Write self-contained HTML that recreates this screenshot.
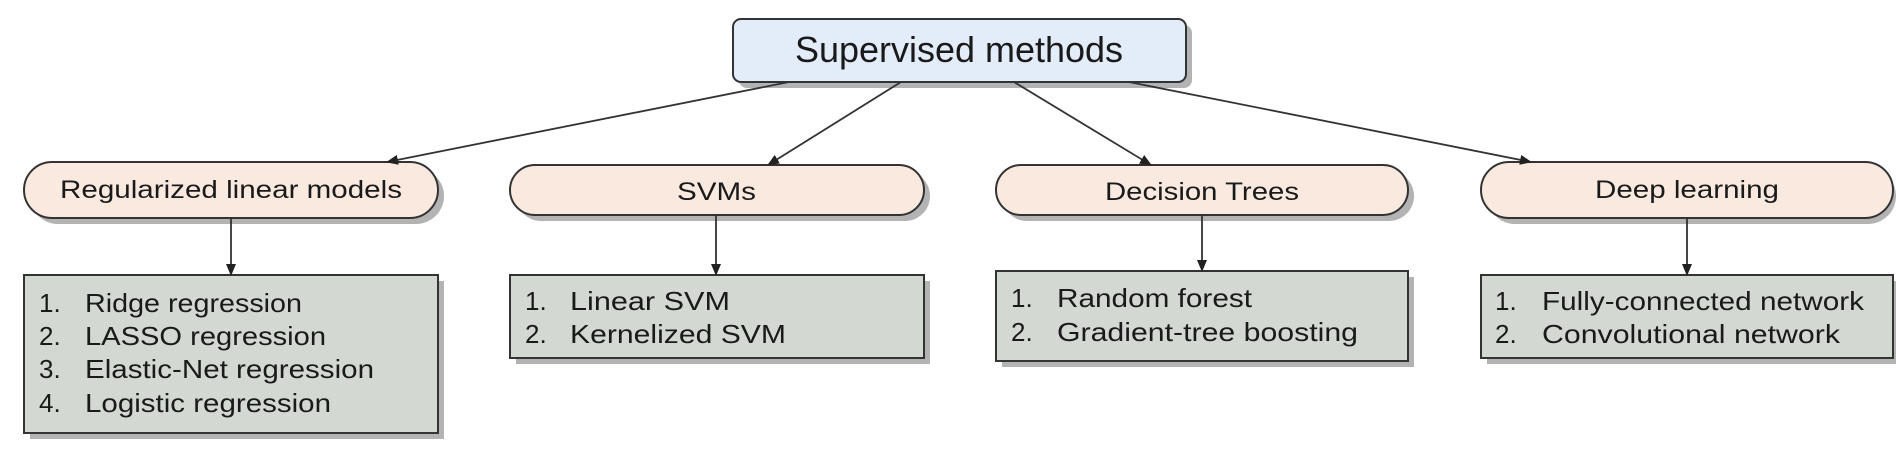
<!DOCTYPE html>
<html><head><meta charset="utf-8"><style>html,body{margin:0;padding:0;background:#fff}svg{display:block}text{font-family:"Liberation Sans",sans-serif;fill:#1a1a1a}</style></head><body>
<svg width="1896" height="474" viewBox="0 0 1896 474" xmlns="http://www.w3.org/2000/svg">
<defs><marker id="a" markerWidth="12" markerHeight="10" refX="11" refY="5" orient="auto" markerUnits="userSpaceOnUse"><path d="M0,0 L12,5 L0,10 z" fill="#222"/></marker></defs>
<g fill="#9a9a9a" opacity="0.75">
<rect x="739" y="25" width="453" height="63" rx="8"/>
<rect x="30" y="168" width="414" height="56" rx="28"/>
<rect x="516" y="171" width="414" height="50" rx="25"/>
<rect x="1002" y="171" width="412" height="50" rx="25"/>
<rect x="1487" y="168" width="409" height="56" rx="28"/>
<rect x="30" y="281" width="414" height="158"/>
<rect x="516" y="281" width="414" height="83"/>
<rect x="1002" y="277" width="412" height="90"/>
<rect x="1487" y="281" width="409" height="83"/>
</g>
<g stroke="#333" stroke-width="2">
<rect x="733" y="19" width="453" height="63" rx="8" fill="#e3ecf9"/>
<rect x="24" y="162" width="414" height="56" rx="28" fill="#f9e9df"/>
<rect x="510" y="165" width="414" height="50" rx="25" fill="#f9e9df"/>
<rect x="996" y="165" width="412" height="50" rx="25" fill="#f9e9df"/>
<rect x="1481" y="162" width="412" height="56" rx="28" fill="#f9e9df"/>
<rect x="24" y="275" width="414" height="158" fill="#d3d9d2"/>
<rect x="510" y="275" width="414" height="83" fill="#d3d9d2"/>
<rect x="996" y="271" width="412" height="90" fill="#d3d9d2"/>
<rect x="1481" y="275" width="412" height="83" fill="#d3d9d2"/>
</g>
<g stroke="#333" stroke-width="1.8" marker-end="url(#a)">
<line x1="789" y1="82" x2="387" y2="162"/>
<line x1="901" y1="82" x2="768" y2="165"/>
<line x1="1014" y1="82" x2="1151" y2="165"/>
<line x1="1129" y1="82" x2="1531" y2="162"/>
<line x1="231" y1="218" x2="231" y2="275"/>
<line x1="716" y1="215" x2="716" y2="275"/>
<line x1="1202" y1="215" x2="1202" y2="271"/>
<line x1="1687" y1="218" x2="1687" y2="275"/>
</g>
<text x="795" y="62" font-size="36" textLength="328" lengthAdjust="spacingAndGlyphs">Supervised methods</text>
<g font-size="25">
<text x="60" y="198" textLength="342" lengthAdjust="spacingAndGlyphs">Regularized linear models</text>
<text x="677" y="200" textLength="79" lengthAdjust="spacingAndGlyphs">SVMs</text>
<text x="1105" y="200" textLength="194" lengthAdjust="spacingAndGlyphs">Decision Trees</text>
<text x="1595" y="198" textLength="184" lengthAdjust="spacingAndGlyphs">Deep learning</text>
</g>
<g font-size="26">
<text x="39" y="312">1.</text><text x="85" y="312" textLength="217" lengthAdjust="spacingAndGlyphs">Ridge regression</text>
<text x="39" y="345">2.</text><text x="85" y="345" textLength="241" lengthAdjust="spacingAndGlyphs">LASSO regression</text>
<text x="39" y="378">3.</text><text x="85" y="378" textLength="289" lengthAdjust="spacingAndGlyphs">Elastic-Net regression</text>
<text x="39" y="412">4.</text><text x="85" y="412" textLength="246" lengthAdjust="spacingAndGlyphs">Logistic regression</text>
<text x="525" y="310">1.</text><text x="570" y="310" textLength="160" lengthAdjust="spacingAndGlyphs">Linear SVM</text>
<text x="525" y="343">2.</text><text x="570" y="343" textLength="216" lengthAdjust="spacingAndGlyphs">Kernelized SVM</text>
<text x="1011" y="307">1.</text><text x="1057" y="307" textLength="195" lengthAdjust="spacingAndGlyphs">Random forest</text>
<text x="1011" y="341">2.</text><text x="1057" y="341" textLength="301" lengthAdjust="spacingAndGlyphs">Gradient-tree boosting</text>
<text x="1495" y="310">1.</text><text x="1542" y="310" textLength="322" lengthAdjust="spacingAndGlyphs">Fully-connected network</text>
<text x="1495" y="343">2.</text><text x="1542" y="343" textLength="298" lengthAdjust="spacingAndGlyphs">Convolutional network</text>
</g>
</svg>
</body></html>
